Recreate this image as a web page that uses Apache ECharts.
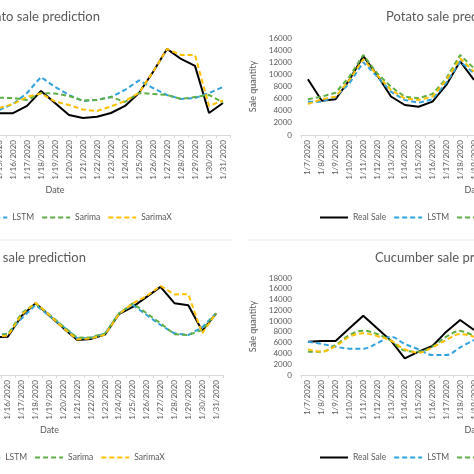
<!DOCTYPE html>
<html>
<head>
<meta charset="utf-8">
<script src="https://cdn.jsdelivr.net/npm/echarts@6/dist/echarts.min.js"></script>
<style>
html, body { margin: 0; padding: 0; background: #fff; }
#chart { width: 474px; height: 474px; }
</style>
</head>
<body>
<div id="chart"></div>
<script>
// categories
const dates = ['1/7/2020', '1/8/2020', '1/9/2020', '1/10/2020', '1/11/2020', '1/12/2020', '1/13/2020',
  '1/14/2020', '1/15/2020', '1/16/2020', '1/17/2020', '1/18/2020', '1/19/2020', '1/20/2020',
  '1/21/2020', '1/22/2020', '1/23/2020', '1/24/2020', '1/25/2020', '1/26/2020', '1/27/2020',
  '1/28/2020', '1/29/2020', '1/30/2020', '1/31/2020'];
const seriesNames = ['Real Sale', 'LSTM', 'Sarima', 'SarimaX'];
const N = null; // point lies outside the cropped picture

// top left chart (only 1/15 .. 1/31 visible)
const tomatoReal = [N, N, N, N, N, N, N, N, 3600, 3600, 4800, 7260, 5280, 3300, 2800, 3000, 3630, 4800, 6930, 10400, 14200, 12540, 11400, 3630, 5280];
const tomatoLstm = [N, N, N, N, N, N, N, N, 4130, 5100, 6930, 9570, 7920, 6600, 5600, 5780, 6270, 7430, 9000, 7750, 6600, 5940, 6100, 6930, 7920];
const tomatoSarima = [N, N, N, N, N, N, N, N, 6150, 6100, 5780, 6930, 6850, 6430, 5700, 5780, 6270, 5450, 6930, 6770, 6600, 5940, 6270, 6600, 5360];
const tomatoSarimaX = [N, N, N, N, N, N, N, N, 4450, 5100, 6270, 6850, 5530, 4950, 4200, 3960, 4700, 5600, 6930, 10400, 14200, 13200, 13200, 4790, 5700];

// top right chart (only 1/7 .. 1/19 visible)
const potatoReal = [9200, 5650, 5900, 9100, 13000, 9900, 6350, 4950, 4670, 5500, 8250, 12150, 9080, N, N, N, N, N, N, N, N, N, N, N, N];
const potatoLstm = [5500, 5500, 6320, 8530, 12000, 9630, 7150, 5780, 5330, 5890, 8630, 12100, 10180, N, N, N, N, N, N, N, N, N, N, N, N];
const potatoSarima = [5890, 6320, 6980, 9630, 13200, 10180, 7980, 6320, 6050, 6770, 9350, 13200, 11000, N, N, N, N, N, N, N, N, N, N, N, N];
const potatoSarimaX = [5120, 5890, 6320, 9080, 12500, 9900, 7430, 6050, 5780, 6320, 9080, 12650, 10450, N, N, N, N, N, N, N, N, N, N, N, N];

// bottom left chart (only 1/15 .. 1/31 visible)
const onionReal = [N, N, N, N, N, N, N, N, 7000, 7100, 11000, 13300, 11000, 8700, 6500, 6700, 7500, 11300, 12650, 14500, 16350, 13330, 12950, 8200, 11400];
const onionLstm = [N, N, N, N, N, N, N, N, 7300, 7700, 10500, 13000, 10950, 8970, 6800, 6900, 7730, 11450, 12990, 11140, 9280, 7730, 7420, 8850, 11450];
const onionSarima = [N, N, N, N, N, N, N, N, 7400, 7500, 11500, 13300, 11200, 9000, 6900, 7000, 7700, 11400, 13300, 11450, 9590, 7550, 7420, 8350, 11450];
const onionSarimaX = [N, N, N, N, N, N, N, N, 7200, 7300, 11200, 13400, 11100, 8700, 6600, 6800, 7500, 11300, 13300, 14660, 16520, 14950, 15000, 7730, 11450];

// bottom right chart (only 1/7 .. 1/19 visible)
const cucumberReal = [6180, 6300, 6300, 8660, 11000, 8660, 6370, 3090, 4330, 5380, 8040, 10200, 8350, N, N, N, N, N, N, N, N, N, N, N, N];
const cucumberLstm = [6180, 5750, 5260, 4890, 4890, 5880, 7110, 5750, 4760, 3700, 3700, 5130, 6500, N, N, N, N, N, N, N, N, N, N, N, N];
const cucumberSarima = [4330, 4330, 5570, 7420, 8230, 7610, 6370, 4520, 4330, 5260, 7110, 8170, 7240, N, N, N, N, N, N, N, N, N, N, N, N];
const cucumberSarimaX = [4760, 4330, 5380, 7110, 7730, 7240, 6370, 4760, 4140, 5130, 6500, 7610, 7110, N, N, N, N, N, N, N, N, N, N, N, N];

const colors = ['#000000', '#31a2dc', '#5fae45', '#ffc000'];
const textGray = '#595959';
const font = 'Lato';

// the picture is a crop, so some panels sit partly outside the canvas
const panels = [
  { title: 'Tomato sale prediction', titleAt: [100, 17, 'right'], grid: { left: -120, width: 350, top: 38, height: 97 },
    legend: { left: -96, top: 213 }, yMax: 16000, smooth: false,
    data: [tomatoReal, tomatoLstm, tomatoSarima, tomatoSarimaX] },
  { title: 'Potato sale prediction', titleAt: [386, 17, 'left'], grid: { left: 301, width: 346, top: 38, height: 97 },
    legend: { left: 319, top: 213 }, yMax: 16000, smooth: false,
    data: [potatoReal, potatoLstm, potatoSarima, potatoSarimaX] },
  { title: 'Onion sale prediction', titleAt: [86, 258, 'right'], grid: { left: -124, width: 347, top: 278, height: 97 },
    legend: { left: -103, top: 453 }, yMax: 18000, smooth: false,
    data: [onionReal, onionLstm, onionSarima, onionSarimaX] },
  { title: 'Cucumber sale prediction', titleAt: [375, 258, 'left'], grid: { left: 301, width: 346, top: 278, height: 97 },
    legend: { left: 319, top: 453 }, yMax: 18000, smooth: true,
    data: [cucumberReal, cucumberLstm, cucumberSarima, cucumberSarimaX] }
];

const option = {
  animation: false,
  backgroundColor: '#fff',
  textStyle: { fontFamily: font },
  legend: [], grid: [], xAxis: [], yAxis: [], series: [],
  graphic: [
    { type: 'line', silent: true, shape: { x1: 0, y1: 240, x2: 232, y2: 240 }, style: { stroke: '#ececec', lineWidth: 1 } },
    { type: 'line', silent: true, shape: { x1: 248, y1: 240, x2: 474, y2: 240 }, style: { stroke: '#ececec', lineWidth: 1 } }
  ]
};

panels.forEach((p, i) => {
  option.graphic.push({
    type: 'text', silent: true, x: p.titleAt[0], y: p.titleAt[1],
    style: { text: p.title, fill: textGray, font: '13px ' + font, textAlign: p.titleAt[2], textVerticalAlign: 'middle' }
  });
  option.legend.push(Object.assign({
    data: seriesNames, itemWidth: 28, itemHeight: 10, itemGap: 7, padding: 0, width: 400,
    itemStyle: { opacity: 0 },
    textStyle: { fontFamily: font, fontSize: 8.5, color: textGray }
  }, p.legend));
  option.grid.push(Object.assign({ containLabel: false, outerBoundsMode: 'none' }, p.grid));
  option.xAxis.push({
    type: 'category', gridIndex: i, data: dates, boundaryGap: true,
    name: 'Date', nameLocation: 'middle', nameGap: 51,
    nameTextStyle: { fontFamily: font, fontSize: 9, color: textGray },
    axisLine: { lineStyle: { color: '#d9d9d9', width: 1 } },
    axisTick: { show: true, length: 3, lineStyle: { color: '#d9d9d9' } },
    axisLabel: { rotate: 90, interval: 0, margin: 5, fontFamily: font, fontSize: 8, color: textGray },
    splitLine: { show: false }
  });
  option.yAxis.push({
    type: 'value', gridIndex: i, min: 0, max: p.yMax, interval: 2000,
    name: 'Sale quantity', nameLocation: 'middle', nameRotate: 90, nameGap: 36,
    nameTextStyle: { fontFamily: font, fontSize: 9, color: textGray },
    axisLine: { show: false }, axisTick: { show: false }, splitLine: { show: false },
    axisLabel: { margin: 9, fontFamily: font, fontSize: 8, color: textGray, formatter: v => String(v) }
  });
  p.data.forEach((values, k) => {
    option.series.push({
      name: seriesNames[k], type: 'line', xAxisIndex: i, yAxisIndex: i,
      data: values, symbol: 'none', connectNulls: false,
      smooth: p.smooth && k > 0 ? 0.35 : false,
      lineStyle: { color: colors[k], width: 2, type: k === 0 ? 'solid' : [5, 3] },
      itemStyle: { color: colors[k] }
    });
  });
});

const chart = echarts.init(document.getElementById('chart'));
chart.setOption(option);
</script>
</body>
</html>
